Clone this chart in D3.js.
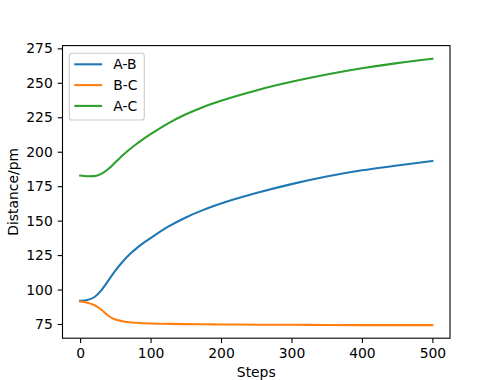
<!DOCTYPE html>
<html>
<head>
<meta charset="utf-8">
<script src="https://cdn.jsdelivr.net/npm/d3@7"></script>
<style>
  body { margin: 0; background: #fff; }
  svg { display: block; }
  text { font-family: "DejaVu Sans", sans-serif; }
</style>
</head>
<body>
<svg id="chart" width="500" height="380"></svg>
<script>
const steps = [0, 10, 20, 30, 40, 50, 60, 70, 80, 90, 100, 125, 150, 175, 200, 250, 300, 350, 400, 450, 500];
const abValues = [91.8, 92.4, 94.4, 99.4, 106.5, 113.8, 120, 125.4, 129.9, 133.8, 137.3, 145.6, 152.3, 157.8, 162.4, 170, 176.5, 182, 186.5, 190, 193.3];
const bcValues = [91.3, 90.5, 88.8, 85.5, 81, 78.3, 77, 76.3, 75.9, 75.6, 75.4, 75.1, 74.9, 74.8, 74.7, 74.5, 74.4, 74.3, 74.2, 74.2, 74.2];
const acValues = [182.7, 182.2, 182.3, 183.9, 187.5, 192.3, 197.2, 201.6, 205.6, 209.3, 212.7, 220.6, 227.2, 232.5, 237, 244.5, 250.7, 256, 260.5, 264.3, 267.5];
const seriesNames = ["A-B", "B-C", "A-C"];
const seriesColors = ["#1f77b4", "#ff7f0e", "#2ca02c"];
const xTicks = [0, 100, 200, 300, 400, 500];
const yTicks = [75, 100, 125, 150, 175, 200, 225, 250, 275];
const xLabel = "Steps";
const yLabel = "Distance/pm";

const series = [abValues, bcValues, acValues].map((vals, i) => ({
  name: seriesNames[i], color: seriesColors[i],
  points: steps.map((s, j) => [s, vals[j]])
}));

const svg = d3.select("#chart");
const L = 62.5, R = 450, T = 45.6, B = 338.2;
const fs = 13.9, tick = 4.86;

const x = d3.scaleLinear().domain([-25, 525]).range([L, R]);
const y = d3.scaleLinear().domain([64.7, 277]).range([B, T]);

const line = d3.line().x(d => x(d[0])).y(d => y(d[1])).curve(d3.curveMonotoneX);

const plot = svg.append("g");
series.forEach(s => {
  plot.append("path").attr("d", line(s.points))
    .attr("fill", "none").attr("stroke", s.color)
    .attr("stroke-width", 2.08).attr("stroke-linecap", "square");
});

// spines
svg.append("rect").attr("x", L).attr("y", T).attr("width", R - L).attr("height", B - T)
  .attr("fill", "none").attr("stroke", "#000").attr("stroke-width", 1.1);

const xAxis = svg.append("g").attr("transform", `translate(0,${B})`)
  .call(d3.axisBottom(x).tickValues(xTicks).tickSize(tick).tickPadding(tick).tickFormat(d3.format("d")));
const yAxis = svg.append("g").attr("transform", `translate(${L},0)`)
  .call(d3.axisLeft(y).tickValues(yTicks).tickSize(tick).tickPadding(tick).tickFormat(d3.format("d")));
[xAxis, yAxis].forEach(a => {
  a.select(".domain").remove();
  a.selectAll(".tick line").attr("stroke", "#000").attr("stroke-width", 1.1);
  a.selectAll(".tick text").attr("fill", "#000").attr("font-size", fs)
    .attr("font-family", "DejaVu Sans, sans-serif");
});

svg.append("text").attr("x", (L + R) / 2).attr("y", 377).attr("text-anchor", "middle")
  .attr("font-size", fs).text(xLabel);
svg.append("text").attr("transform", `translate(18,${(T + B) / 2}) rotate(-90)`)
  .attr("text-anchor", "middle").attr("font-size", fs).text(yLabel);

// legend
const lg = svg.append("g");
lg.append("rect").attr("x", 69.3).attr("y", 53.3).attr("width", 75).attr("height", 66.7)
  .attr("rx", 2.8).attr("fill", "#fff").attr("fill-opacity", 0.8)
  .attr("stroke", "#cccccc").attr("stroke-width", 1.1);
series.forEach((s, i) => {
  const yy = 64.3 + i * 20.8;
  lg.append("line").attr("x1", 74.3).attr("x2", 102.1).attr("y1", yy).attr("y2", yy)
    .attr("stroke", s.color).attr("stroke-width", 2.08);
  lg.append("text").attr("x", 113.2).attr("y", yy + 5).attr("font-size", fs).text(s.name);
});
</script>
</body>
</html>
